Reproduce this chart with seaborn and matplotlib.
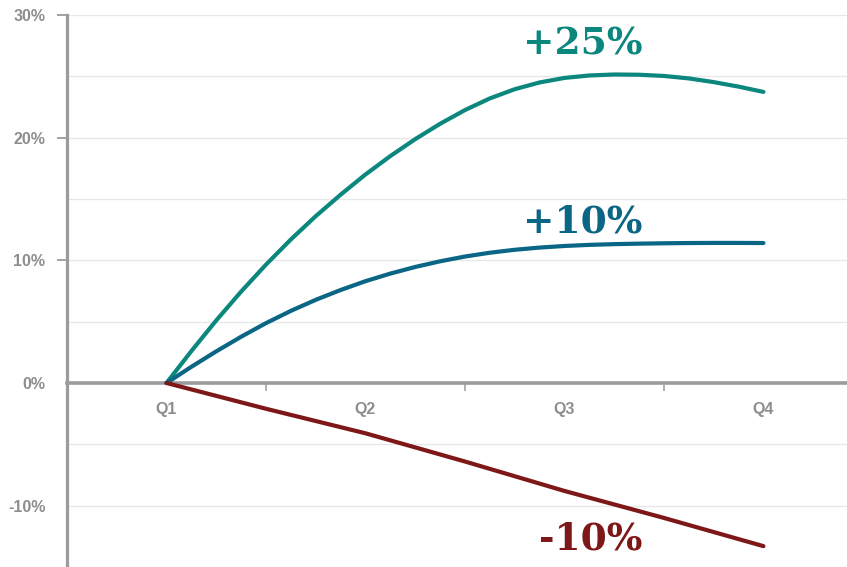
import numpy as np
import pandas as pd
import matplotlib
matplotlib.use("Agg")
import matplotlib.pyplot as plt
import seaborn as sns

# Quarter positions (0 = Q1 ... 3 = Q4) for the two growth curves
curve_pos = [0.0, 0.125, 0.25, 0.375, 0.5, 0.625, 0.75, 0.875, 1.0, 1.125,
             1.25, 1.375, 1.5, 1.625, 1.75, 1.875, 2.0, 2.125, 2.25, 2.375,
             2.5, 2.625, 2.75, 2.875, 3.0]

# Cumulative change (%) for each scenario
upside = [0.0, 2.6, 5.1, 7.45, 9.65, 11.7, 13.6, 15.35, 17.0, 18.5,
          19.88, 21.13, 22.25, 23.2, 23.95, 24.5, 24.87, 25.07, 25.15, 25.13,
          25.03, 24.83, 24.53, 24.16, 23.73]
base = [0.0, 1.32, 2.58, 3.77, 4.88, 5.88, 6.78, 7.58, 8.3, 8.92,
        9.46, 9.92, 10.31, 10.62, 10.86, 11.04, 11.17, 11.26, 11.32, 11.36,
        11.39, 11.41, 11.42, 11.42, 11.41]

# The decline is close to a straight line
decline_pos = [0.0, 0.5, 1.0, 1.5, 2.0, 2.5, 3.0]
downside = [0.0, -2.1, -4.1, -6.4, -8.8, -11.0, -13.3]

scenarios = ["+25%", "+10%", "-10%"]
colors = ["#0B877E", "#0A6684", "#7E1818"]

quarter_labels = ["Q1", "Q2", "Q3", "Q4"]
quarter_ticks = [0, 1, 2, 3]
y_major = [-10, 0, 10, 20, 30]
y_minor = [-5, 5, 15, 25]

# Label anchor (quarter position, value) for each scenario
label_x = [2.09, 2.09, 2.13]
label_y = [27.6, 13.1, -12.7]

df = pd.DataFrame({
    "quarter": curve_pos + curve_pos + decline_pos,
    "change": upside + base + downside,
    "scenario": [scenarios[0]] * len(upside)
    + [scenarios[1]] * len(base)
    + [scenarios[2]] * len(downside),
})

sns.set_style("white")
fig = plt.figure(figsize=(8.47, 5.67), dpi=100)
ax = fig.add_axes([67 / 847, 0.0, 1 - 67 / 847, 1 - 15 / 567])

axis_gray = "#9b9b9e"
label_gray = "#8e8e8e"

# Light horizontal grid every 5%
for v in y_major + y_minor:
    if v != 0:
        ax.axhline(v, color="#e7e7e7", lw=0.9, zorder=0)

sns.lineplot(
    data=df, x="quarter", y="change", hue="scenario",
    palette=dict(zip(scenarios, colors)), hue_order=scenarios,
    linewidth=3.0, legend=False, ax=ax, zorder=3,
)
for line in ax.get_lines():
    line.set_solid_capstyle("round")
    line.set_solid_joinstyle("round")

for name, c, lx, ly in zip(scenarios, colors, label_x, label_y):
    ax.text(lx, ly, name, color=c, fontsize=27, fontweight="bold",
            family="DejaVu Serif", ha="center", va="center", zorder=4)

ax.set_xlim(-0.5, 3.42)
ax.set_ylim(-15, 30)

# Spines: left axis and a zero baseline carrying the quarter labels
for s in ["top", "right"]:
    ax.spines[s].set_visible(False)
ax.spines["left"].set_color(axis_gray)
ax.spines["left"].set_linewidth(2.3)
ax.spines["bottom"].set_position(("data", 0))
ax.spines["bottom"].set_color(axis_gray)
ax.spines["bottom"].set_linewidth(2.6)
ax.spines["left"].set_zorder(2)
ax.spines["bottom"].set_zorder(2)

ax.set_xticks(quarter_ticks)
ax.set_xticklabels(quarter_labels)
ax.set_xticks([0.5, 1.5, 2.5], minor=True)
ax.tick_params(axis="x", which="major", length=0, pad=14, labelsize=11.5,
               labelcolor=label_gray)
ax.tick_params(axis="x", which="minor", direction="out", length=6,
               width=1.1, color=axis_gray, bottom=True)

ax.set_yticks(y_major)
ax.set_yticklabels([f"{v}%" for v in y_major])
ax.set_yticks(y_minor, minor=True)
ax.tick_params(axis="y", which="both", direction="out", length=7.5,
               width=1.3, color=axis_gray, left=True, pad=8,
               labelsize=11.5, labelcolor=label_gray)

# Tick marks only on the positive side of the axis
for t in ax.yaxis.get_major_ticks() + ax.yaxis.get_minor_ticks():
    if t.get_loc() <= 0:
        t.tick1line.set_visible(False)

for lab in ax.get_xticklabels() + ax.get_yticklabels():
    lab.set_fontweight("bold")
    lab.set_family("Liberation Sans")

ax.set_xlabel("")
ax.set_ylabel("")

fig.savefig("out.png", dpi=100)
